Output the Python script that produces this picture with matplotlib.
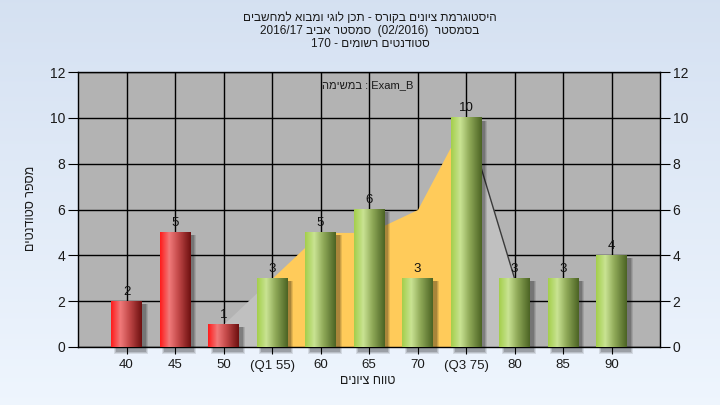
"""
Grade histogram for a course, with the Q1-Q3 range shaded behind the bars.
"""

import re

import matplotlib.pyplot as plt
import numpy as np
from matplotlib.colors import LinearSegmentedColormap
from matplotlib.patches import Rectangle


TITLE_LINES = [
    'היסטוגרמת ציונים בקורס - תכן לוגי ומבוא למחשבים',
    'בסמסטר  (02/2016)  סמסטר אביב 2016/17',
    'סטודנטים רשומים - 170',
]
TASK_WORD = 'במשימה'
TASK_NAME = 'Exam_B'
X_LABEL = 'טווח ציונים'
Y_LABEL = 'מספר סטודנטים'

CATEGORIES = ['40', '45', '50', '(Q1 55)', '60', '65', '70', '(Q3 75)',
              '80', '85', '90']
COUNTS = [2, 5, 1, 3, 5, 6, 3, 10, 3, 3, 4]
FAILED = [True, True, True, False, False, False, False, False, False,
          False, False]

# Area drawn behind the bars (index, value).
AREA_INDEX = [2, 3, 4, 5, 6, 7, 8]
AREA_VALUES = [1, 3, 5, 5, 6, 10, 3]
Q1_INDEX = 3
Q3_INDEX = 7

FONT = ['Liberation Sans', 'DejaVu Sans']

RED_STOPS = ['#ff1c1c', '#f07a7a', '#c24848', '#6e1010']
GREEN_STOPS = ['#a4cf4c', '#c9e393', '#8fa958', '#4c6424']


def rtl(text):
    """Turn a logical-order right-to-left string into display order."""
    rev = text[::-1]
    rev = re.sub(r'[0-9A-Za-z/_.]+', lambda m: m.group(0)[::-1], rev)
    return rev.translate(str.maketrans('()', ')('))


def draw_background(fig):
    bg = fig.add_axes([0, 0, 1, 1], zorder=-10)
    top = np.array([0.835, 0.882, 0.948])
    bottom = np.array([0.935, 0.962, 0.995])
    t = np.linspace(0, 1, 256)[:, None]
    grad = top + (bottom - top) * t
    bg.imshow(grad[:, None, :], aspect='auto', extent=[0, 1, 0, 1])
    bg.set_axis_off()


def draw_areas(axes):
    xs = np.array(AREA_INDEX, dtype=float)
    ys = np.array(AREA_VALUES, dtype=float)
    light = '#c0c0c0'
    orange = '#ffcb5a'

    lo = AREA_INDEX.index(Q1_INDEX)
    hi = AREA_INDEX.index(Q3_INDEX)
    axes.fill_between(xs[:lo + 1], ys[:lo + 1], color=light, lw=0, zorder=1)
    axes.fill_between(xs[hi:], ys[hi:], color=light, lw=0, zorder=1)
    axes.fill_between(xs[lo:hi + 1], ys[lo:hi + 1], color=orange, lw=0,
                      zorder=1.2)
    axes.plot(xs[hi:], ys[hi:], color='#3a3a3a', lw=1, zorder=1.3)


def draw_bars(axes):
    width = 0.62
    for i, (count, failed) in enumerate(zip(COUNTS, FAILED)):
        left = i - width / 2

        # soft shadow to the right and below
        for k, alpha in enumerate([0.10, 0.12, 0.16]):
            grow = 0.04 * (2 - k)
            axes.add_patch(Rectangle(
                (left + 0.09 - grow / 2, -0.22 - grow),
                width + grow, count + 0.1 + grow,
                color='black', alpha=alpha, lw=0, zorder=2,
                clip_on=False))

        stops = RED_STOPS if failed else GREEN_STOPS
        cmap = LinearSegmentedColormap.from_list(
            'bar', list(zip([0, 0.3, 0.6, 1], stops)))
        grad = np.linspace(0, 1, 64)[None, :]
        axes.imshow(grad, cmap=cmap, aspect='auto', zorder=3,
                    extent=[left, left + width, 0, count],
                    interpolation='bilinear')

        axes.text(i, count + 0.15, str(count), ha='center', va='bottom',
                  fontsize=9.5, color='#111111', family=FONT, zorder=4)


def main():
    fig = plt.figure(figsize=(7.2, 4.05), dpi=100)
    draw_background(fig)

    axes = fig.add_axes([78 / 720, 1 - 347 / 405, 582 / 720, 275 / 405])
    axes.set_facecolor('#b3b3b3')

    draw_areas(axes)
    draw_bars(axes)

    axes.set_xlim(-1, len(CATEGORIES))
    axes.set_ylim(0, 12)
    axes.set_xticks(range(len(CATEGORIES)))
    axes.set_xticklabels(CATEGORIES)
    axes.set_yticks(range(0, 13, 2))

    axes.set_axisbelow(True)
    axes.grid(True, color='black', lw=1)
    for spine in axes.spines.values():
        spine.set_color('black')
        spine.set_linewidth(1)

    axes.tick_params(axis='y', left=True, right=True, labelleft=True,
                     labelright=True, direction='out', length=7, pad=2,
                     labelsize=10, labelcolor='#1a1a1a')
    axes.tick_params(axis='x', direction='out', length=5, pad=4,
                     labelsize=9.5, labelcolor='#1a1a1a')
    for label in axes.get_xticklabels() + axes.get_yticklabels():
        label.set_family(FONT)
    for label in axes.yaxis.get_ticklabels(which='both'):
        label.set_family(FONT)

    for n, line in enumerate(TITLE_LINES):
        fig.text(370 / 720, 1 - (18 + 13 * n) / 405, rtl(line),
                 ha='center', va='center', fontsize=8.5, color='#1a1a1a',
                 family=FONT)

    fig.text(368 / 720, 1 - 85 / 405,
             rtl(TASK_WORD) + ' : ' + TASK_NAME,
             ha='center', va='center', fontsize=8, color='#1a1a1a',
             family=FONT)

    fig.text(368 / 720, 1 - 381 / 405, rtl(X_LABEL), ha='center',
             va='center', fontsize=9, color='#1a1a1a', family=FONT)
    fig.text(31 / 720, 1 - 208 / 405, rtl(Y_LABEL), ha='center',
             va='center', rotation=90, fontsize=9, color='#1a1a1a',
             family=FONT)

    fig.savefig('out.png', dpi=100)
    plt.close(fig)


if __name__ == '__main__':
    main()
